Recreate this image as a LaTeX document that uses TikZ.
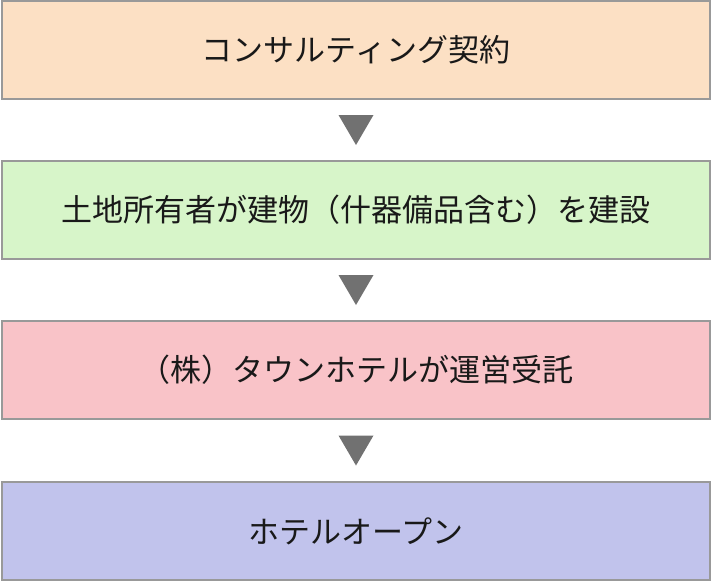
\documentclass[tikz,border=0pt]{standalone}
\usepackage{fontspec}
\newfontfamily\jpfont{Noto Sans CJK JP}
\usetikzlibrary{positioning, calc}
\definecolor{peach}{HTML}{FCE0C4}
\definecolor{mint}{HTML}{D7F5C9}
\definecolor{rose}{HTML}{F9C3C8}
\definecolor{lavender}{HTML}{C1C3EC}
\definecolor{edgegray}{HTML}{999999}
\definecolor{markgray}{HTML}{717171}

\begin{document}
\begin{tikzpicture}[x=1pt, y=1pt,
    stage/.style={draw=edgegray, line width=2pt, minimum width=708pt, minimum height=98pt,
      inner sep=0pt, font=\jpfont\fontsize{31}{36}\selectfont, text=black!90},
    marker/.style={fill=markgray}]
      \useasboundingbox (0,0) rectangle (712,-582);
      \node[stage, fill=peach] (contract) at (356,-50) {コンサルティング契約};
      \node[stage, fill=mint, below=60pt of contract] (build) {土地所有者が建物（什器備品含む）を建設};
      \node[stage, fill=rose, below=60pt of build] (operate) {（株）タウンホテルが運営受託};
      \node[stage, fill=lavender, below=61pt of operate] (open) {ホテルオープン};
      \foreach \a/\b in {contract/build, build/operate, operate/open} {
        \fill[marker] ($(\a.south)!0.5!(\b.north)$) +(-17.5,15) -- +(17.5,15) -- +(0,-15) -- cycle;
      }
    \end{tikzpicture}
\end{document}
